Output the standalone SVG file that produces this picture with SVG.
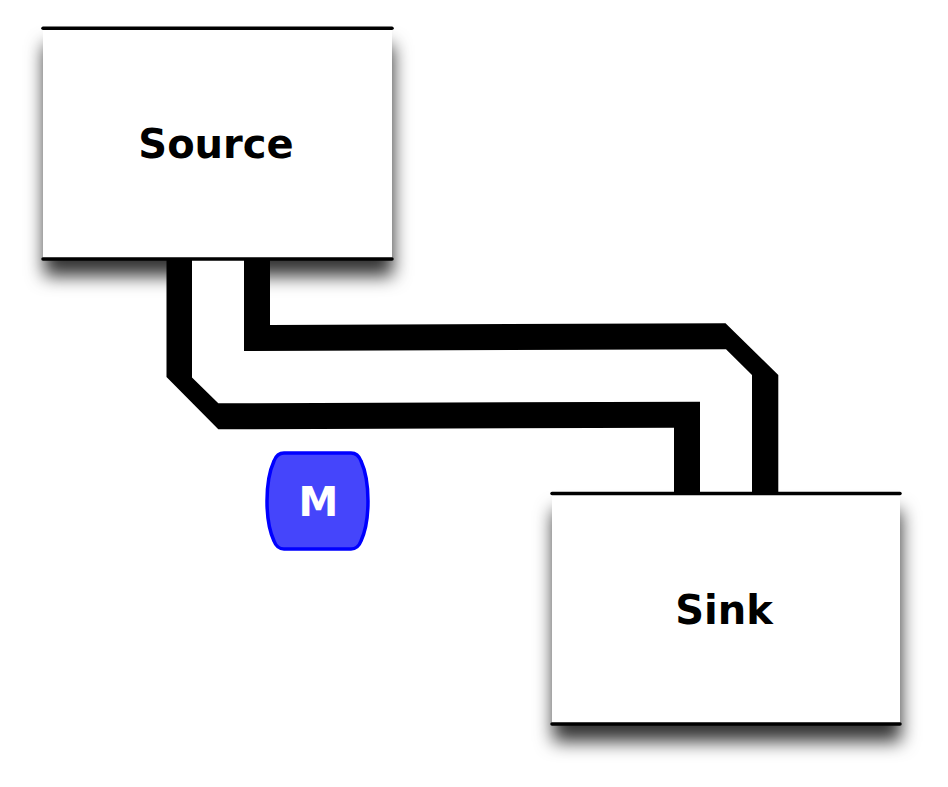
<svg xmlns="http://www.w3.org/2000/svg" width="948" height="787" viewBox="0 0 948 787">
<defs>
<filter id="shadow" x="-20%" y="-20%" width="140%" height="170%">
<feDropShadow dx="1" dy="17" stdDeviation="9" flood-color="#000" flood-opacity="0.8"/>
</filter>
<style>
.box{fill:#fff;filter:url(#shadow);}
.edge{stroke:#000;stroke-width:3.5;stroke-linecap:round;fill:none;}
.label{font-family:"DejaVu Sans",Verdana,sans-serif;font-weight:bold;font-size:40px;text-anchor:middle;fill:#000;}
.stripe{fill:#000;}
.gap{fill:#fff;}
.mnode{fill:#4545fb;stroke:#0000ff;stroke-width:3.5;}
.mlabel{font-family:"DejaVu Sans",Verdana,sans-serif;font-weight:bold;font-size:40px;text-anchor:middle;fill:#fff;}
</style>
</defs>
<rect width="948" height="787" fill="#fff"/>
<g id="source">
<rect class="box" x="43" y="28" width="349" height="231"/>
</g>
<g id="sink">
<rect class="box" x="552" y="493.5" width="348" height="231"/>
</g>
<g id="connectors">
<polygon class="gap" points="192,259 192,378 218,403.3 700,401.7 700,493 752,493 752,375 726,349.3 270,351 244,351 244,259"/>
<polygon class="stripe" points="166.5,259 166.5,377 218.3,429.3 674,427.7 674,493 700,493 700,401.7 218.3,403.3 192,377.5 192,259"/>
<polygon class="stripe" points="244,259 244,351 726,349.3 752,375 752,493 778.3,493 778.3,375 725.5,323.3 270,325 270,259"/>
</g>
<g id="source-lines">
<line class="edge" x1="43" y1="28.3" x2="392" y2="28.3"/>
<line class="edge" x1="43" y1="259" x2="392" y2="259"/>
<text class="label" x="216" y="158">Source</text>
</g>
<g id="sink-lines">
<line class="edge" x1="552" y1="493.5" x2="900" y2="493.5"/>
<line class="edge" x1="552" y1="724" x2="900" y2="724"/>
<text class="label" x="724" y="624">Sink</text>
</g>
<g id="m">
<path class="mnode" d="M284,453 L351,453 Q358,453 361,461 C366,472 368,486 368,501 C368,516 366,530 361,541 Q358,549 351,549 L284,549 Q277,549 274,541 C269,530 267,516 267,501 C267,486 269,472 274,461 Q277,453 284,453 Z"/>
<text class="mlabel" x="318.5" y="516">M</text>
</g>
</svg>
